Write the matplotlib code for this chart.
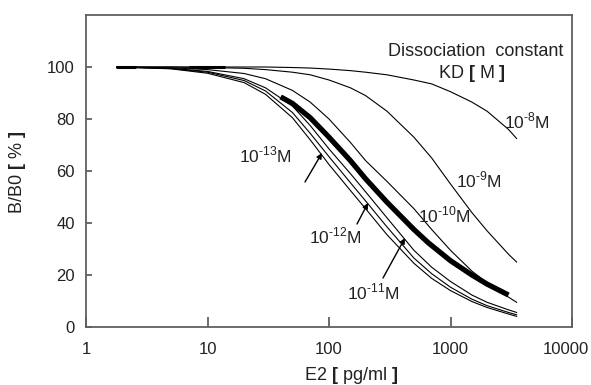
import matplotlib
matplotlib.use("Agg")
import matplotlib.pyplot as plt

plt.rcParams['font.family'] = ['Liberation Sans', 'DejaVu Sans']
plt.rcParams['mathtext.fontset'] = 'custom'
plt.rcParams['mathtext.rm'] = 'Liberation Sans'
plt.rcParams['mathtext.bf'] = 'Liberation Sans:bold'

# concentrations E2 [pg/ml]
conc = [1.8, 5, 10, 20, 30, 50, 70, 100, 150, 200, 300, 500, 700, 1000, 1500, 2000, 3000, 3500]

kd_1e8  = [100, 100, 100, 100, 100, 99.8, 99.6, 99.2, 98.6, 98, 97, 95, 93.5, 90.5, 86.5, 83, 76, 72.5]
kd_1e9  = [100, 100, 99.8, 99.5, 99, 98, 97, 95, 92, 89, 83, 73, 65, 55, 44, 37, 28, 25]
kd_1e10 = [100, 99.7, 99, 97.5, 95.5, 91, 86.5, 80, 71, 64, 56, 45.5, 37.5, 29.5, 21.5, 17, 11.5, 9.5]
kd_1e11 = [100, 99.5, 98.3, 95.5, 92, 85, 77.5, 68.5, 59, 52, 42, 29.5, 23, 17.5, 12.3, 9.5, 6.6, 5.6]
kd_1e12 = [100, 99.4, 98, 94.8, 90.8, 82.5, 74.5, 65.5, 55.5, 48.5, 38.5, 26.5, 20.5, 15.3, 10.7, 8.2, 5.6, 4.7]
kd_1e13 = [100, 99.3, 97.6, 94, 89.5, 80.5, 72, 62.5, 52.5, 45.5, 35.5, 24.5, 18.7, 14, 9.8, 7.5, 5.0, 4.1]

# measured (thick) curve
meas_conc = [40, 50, 70, 100, 150, 200, 300, 500, 660, 1000, 1500, 2000, 3000]
meas_val  = [88.5, 86, 80.5, 73, 64, 57, 48, 37.5, 32.3, 25.5, 20, 16.5, 12.3]

# short darker segments at the 100 % plateau
plateau_a_conc = [1.75, 2.6]
plateau_b_conc = [7.1, 14]
plateau_val = [100, 100]

xticks = [1, 10, 100, 1000, 10000]
xtick_labels = ['1', '10', '100', '1000', '']
yticks = [0, 20, 40, 60, 80, 100]

fig = plt.figure(figsize=(5.91, 3.85), dpi=100)
ax = fig.add_axes([86/591, 1-327/385, (572-86)/591, (327-15)/385])

for series in [kd_1e8, kd_1e9, kd_1e10, kd_1e11, kd_1e12, kd_1e13]:
    ax.plot(conc, series, color='black', lw=0.8)
ax.plot(meas_conc, meas_val, color='black', lw=3.8, solid_capstyle='butt')
ax.plot(plateau_a_conc, plateau_val, color='black', lw=2.2, solid_capstyle='butt')
ax.plot(plateau_b_conc, plateau_val, color='black', lw=2.2, solid_capstyle='butt')

ax.set_xscale('log')
ax.set_xlim(1, 10000)
ax.set_ylim(0, 120)
ax.set_xticks(xticks)
ax.set_xticklabels(xtick_labels)
ax.minorticks_off()
ax.set_yticks(yticks)

gray = '#606060'
tc = '#222222'
for s in ax.spines.values():
    s.set_color(gray)
    s.set_linewidth(1.3)
ax.tick_params(axis='both', direction='in', color=gray, width=1.3, labelsize=12,
               labelcolor=tc)
ax.tick_params(axis='x', length=7, pad=11)
ax.tick_params(axis='y', length=4, pad=8)


def px(x, y):
    # convert figure pixel coords to figure fraction
    return (x/591, 1-y/385)

# last x tick label, nudged left as in the reference
fig.text(*px(566, 350), '10000', fontsize=12, color=tc, ha='center', va='center')

fig.text(*px(351, 375), r'E2 $\mathbf{[}$ pg/ml $\mathbf{]}$', fontsize=13, color=tc,
         ha='center', va='center')
fig.text(*px(18, 172), r'B/B0 $\mathbf{[}$ % $\mathbf{]}$', fontsize=13, color=tc,
         ha='center', va='center', rotation=90)

fig.text(*px(476, 52), 'Dissociation  constant', fontsize=13, color=tc, ha='center', va='center')
fig.text(*px(472, 73), r'KD $\mathbf{[}$ M $\mathbf{]}$', fontsize=13, color=tc, ha='center', va='center')

labels = [
    (527, 121, r'10$^{\text{-}8}$M'),
    (479, 180, r'10$^{\text{-}9}$M'),
    (444, 215, r'10$^{\text{-}10}$M'),
    (265, 155, r'10$^{\text{-}13}$M'),
    (335, 236, r'10$^{\text{-}12}$M'),
    (373, 292, r'10$^{\text{-}11}$M'),
]
for x, y, t in labels:
    fig.text(*px(x, y), t, fontsize=12.5, color=tc, ha='center', va='center')

arrows = [((305, 182), (322, 153)), ((357, 224), (368, 203)), ((383, 278), (405, 238))]
for (x0, y0), (x1, y1) in arrows:
    ax.annotate('', xy=px(x1, y1), xycoords='figure fraction',
                xytext=px(x0, y0), textcoords='figure fraction',
                arrowprops=dict(arrowstyle='-|>', color='black', lw=1.0,
                                mutation_scale=8, shrinkA=0, shrinkB=0))

fig.savefig('out.png', dpi=100)
